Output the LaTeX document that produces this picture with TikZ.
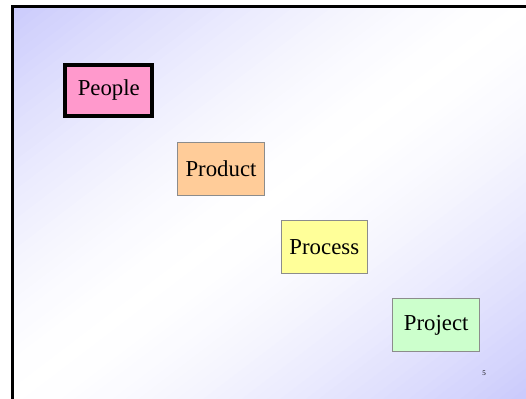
\documentclass[tikz,border=0pt]{standalone}
\usepackage{fontspec}
\setmainfont{Liberation Serif}
\definecolor{slidelav}{RGB}{202,202,252}
\definecolor{peoplefill}{RGB}{255,153,204}
\definecolor{productfill}{RGB}{255,204,153}
\definecolor{processfill}{RGB}{255,255,153}
\definecolor{projectfill}{RGB}{204,255,204}
\definecolor{boxedge}{RGB}{140,140,140}
\tikzset{
  topic/.style={rectangle, draw=boxedge, line width=1pt, inner sep=0pt,
    minimum width=86.6pt, minimum height=53pt,
    font=\fontsize{22.8}{27}\selectfont},
  keytopic/.style={topic, draw=black, line width=4pt,
    minimum width=87pt, minimum height=51.6pt},
}
\begin{document}
\begin{tikzpicture}[x=1pt, y=-1pt]
  \useasboundingbox (0,0) rectangle (526,398);
  \fill[white] (0,0) rectangle (526,398);
  % slide background: diagonal gradient, lavender in the top-left and
  % bottom-right corners, white along the other diagonal
  \begin{scope}
    \clip (12,6) rectangle (526,398);
    \foreach \i in {0,...,79} {
      \pgfmathsetmacro\ta{\i/40}
      \pgfmathsetmacro\tb{(\i+1.6)/40}
      \pgfmathsetmacro\tm{(\i+0.5)/40}
      \pgfmathsetmacro\mix{100*pow(abs(\tm-1),1.5)}
      \fill[slidelav!\mix!white] (12+\ta*514,6) -- (12+\tb*514,6)
        -- (12,6+\tb*392) -- (12,6+\ta*392) -- cycle;
    }
  \end{scope}
  \draw[line width=3pt, line cap=butt] (12.5,412) -- (12.5,6.5) -- (545,6.5);
  \node[keytopic, fill=peoplefill] (people) at (108.8,90.5) {People};
  \node[topic, fill=productfill] (product) at (221,169.2) {Product};
  \node[topic, fill=processfill] (process) at (324.3,247.2) {Process};
  \node[topic, fill=projectfill, minimum width=87pt, minimum height=52.7pt] (project) at (436.2,325.3) {Project};
  \node[font=\fontsize{7}{8}\selectfont, inner sep=0pt] (pagenum) at (484,373.5) {5};
\end{tikzpicture}
\end{document}
